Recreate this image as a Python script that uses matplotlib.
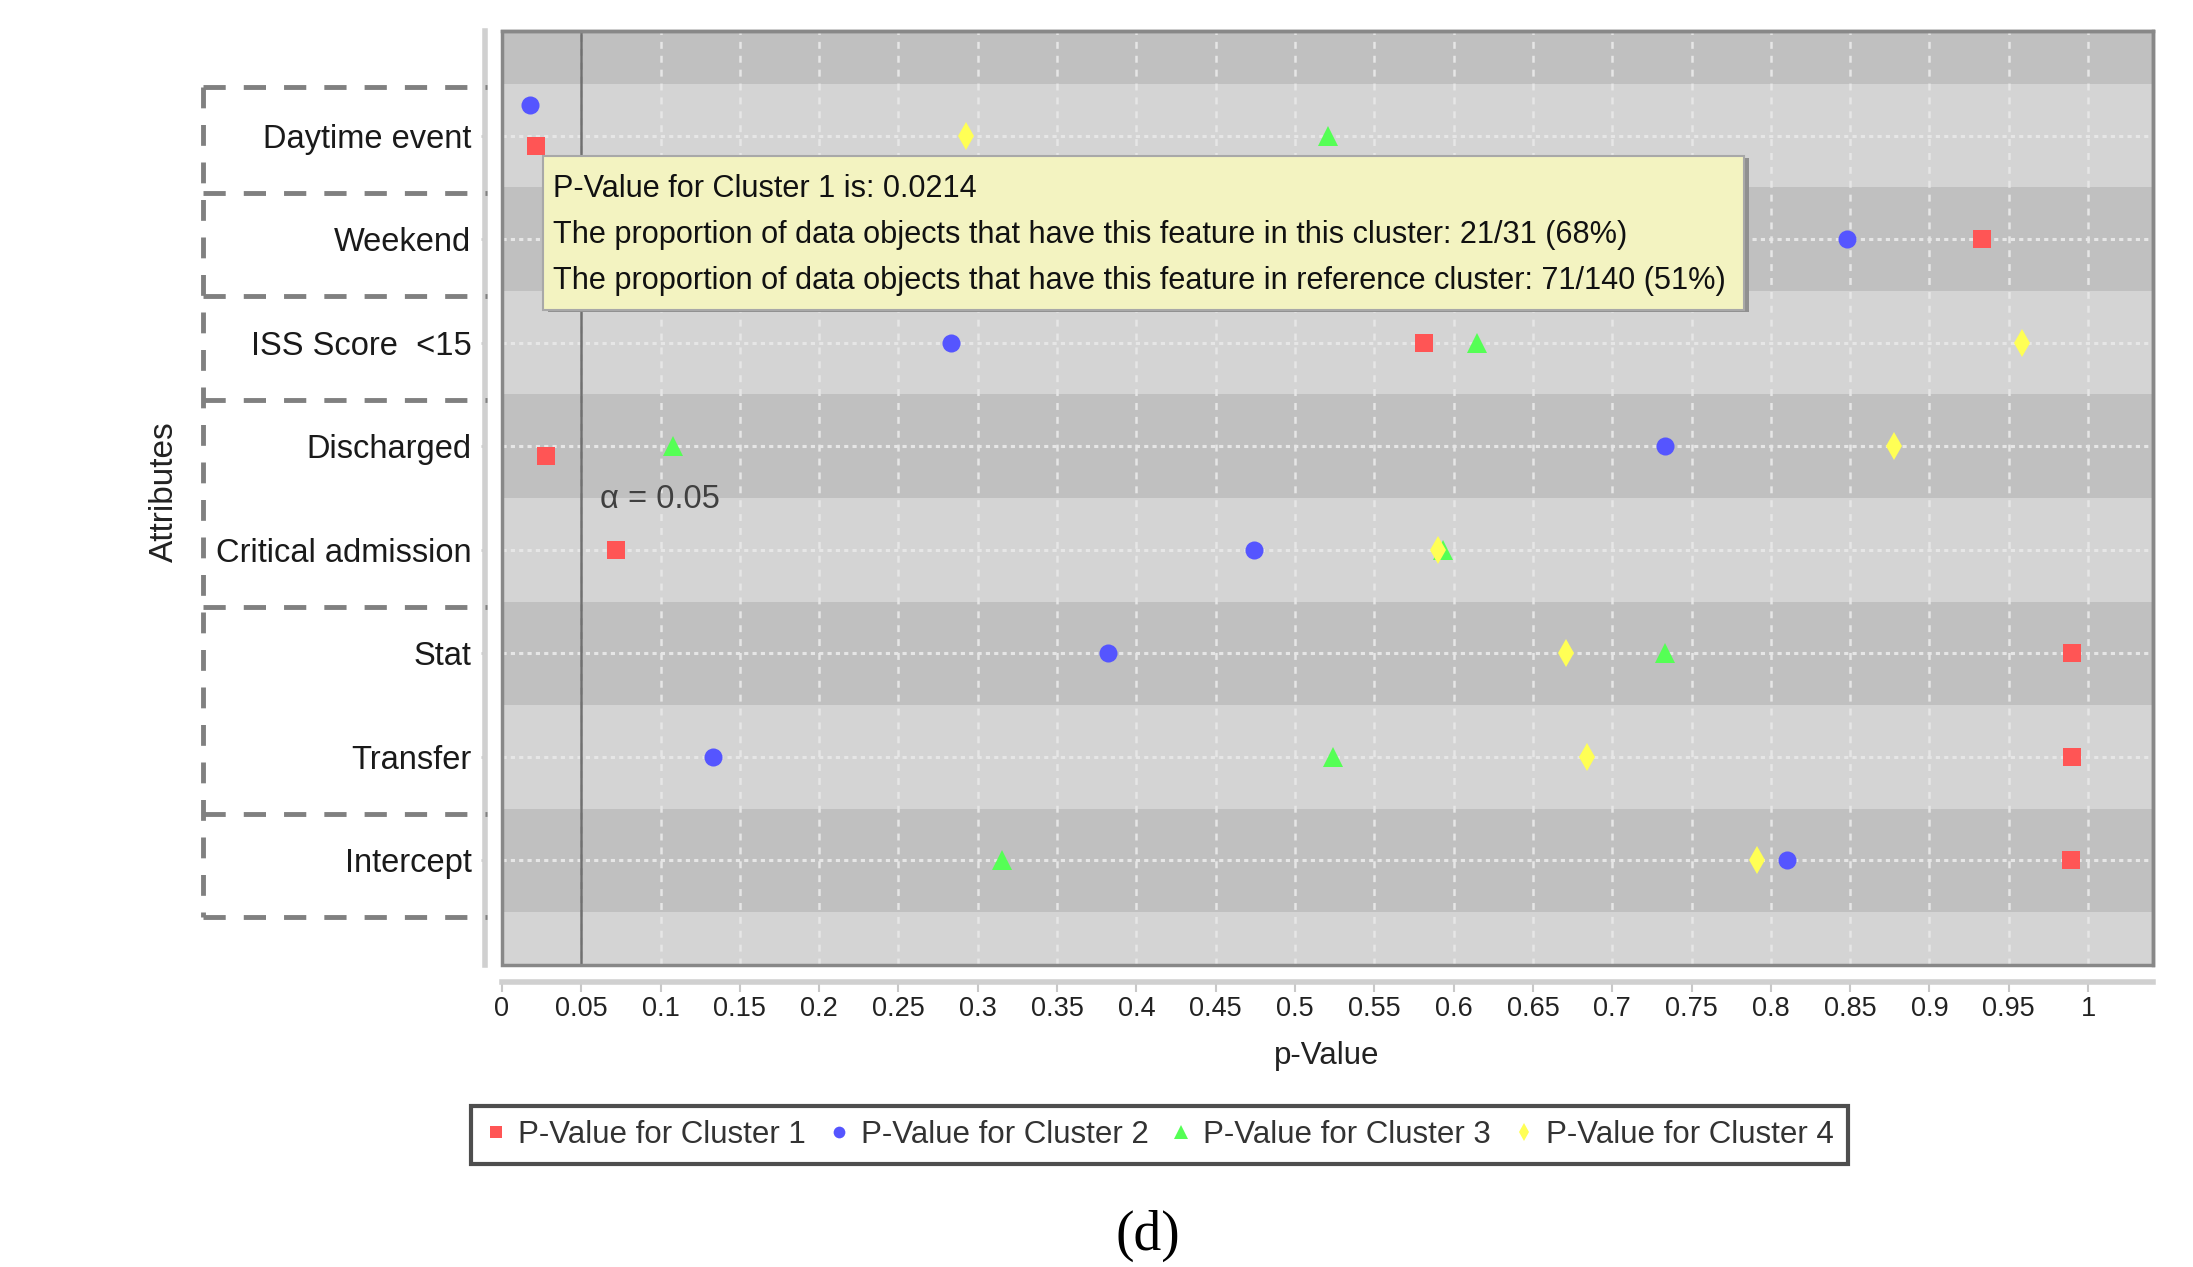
import matplotlib
matplotlib.use("Agg")
import matplotlib.pyplot as plt
from matplotlib.patches import Rectangle
from matplotlib.lines import Line2D
from matplotlib.transforms import blended_transform_factory

plt.rcParams['font.family'] = ['Liberation Sans', 'DejaVu Sans']
plt.rcParams['lines.scale_dashes'] = False

attributes = ["Daytime event", "Weekend", "ISS Score  <15", "Discharged",
              "Critical admission", "Stat", "Transfer", "Intercept"]
groups = [1, 1, 1, 2, 2, 1]

# p-values (None = hidden behind the tooltip)
cluster1 = [0.0214, 0.933, 0.5815, 0.028, 0.072, 0.990, 0.990, 0.989]
cluster2 = [0.0176, 0.848, 0.283, 0.733, 0.474, 0.382, 0.133, 0.810]
cluster3 = [0.521, None, 0.615, 0.108, 0.593, 0.733, 0.524, 0.315]
cluster4 = [0.2925, None, 0.9586, 0.8775, 0.590, 0.671, 0.684, 0.791]
# small vertical displacement of some markers in the reference
shift1 = [-0.1, 0, 0, -0.09, 0, 0, 0, 0]
shift2 = [0.3, 0, 0, 0, 0, 0, 0, 0]
shift0 = [0] * 8

xticks = [i * 0.05 for i in range(21)]

series = [
    ("P-Value for Cluster 1", cluster1, shift1, "s", "#FF5555", 13),
    ("P-Value for Cluster 2", cluster2, shift2, "o", "#5555FF", 13),
    ("P-Value for Cluster 3", cluster3, shift0, "^", "#55FF55", 15),
    ("P-Value for Cluster 4", cluster4, shift0, "d", "#FFFF55", 14),
]

fig = plt.figure(figsize=(21.93, 12.67), dpi=100)
ax = fig.add_axes([0.2289, 0.2384, 0.7529, 0.7371])

# axis look first (set_position resets tick settings)
for s in ["top", "right"]:
    ax.spines[s].set_color("#888888")
    ax.spines[s].set_linewidth(2.5)
for s in ["left", "bottom"]:
    ax.spines[s].set_position(("outward", 12))
    ax.spines[s].set_color("#D0D0D0")
    ax.spines[s].set_linewidth(4)

n = len(attributes)
ypos = [n - i for i in range(n)]

# alternating row bands
for k in range(n + 2):
    col = "#C0C0C0" if k % 2 == 1 else "#D4D4D4"
    ax.axhspan(k - 0.5, k + 0.5, color=col, zorder=0, lw=0)

ax.set_xlim(0, 1.041)
ax.set_ylim(-0.01, 9.01)

for x in xticks:
    ax.axvline(x, color="#E6E6E6", lw=1.8, ls=(0, (5, 5)), zorder=1)
for y in ypos:
    ax.axhline(y, color="#E6E6E6", lw=2.2, ls=(0, (3, 3)), zorder=1)

ax.axvline(0.05, color="#707070", lw=1.8, zorder=2)
ax.text(0.062, 4.49, "α = 0.05", fontsize=23.5, color="#404040", va="center", ha="left", zorder=3)

handles = []
for label, vals, sh, mk, col, ms in series:
    xs = [v for v in vals if v is not None]
    ys = [y + s for v, y, s in zip(vals, ypos, sh) if v is not None]
    ax.plot(xs, ys, ls="none", marker=mk, color=col, ms=ms, mew=0, zorder=4)
    handles.append(Line2D([], [], ls="none", marker=mk, color=col, ms=ms * 0.65, mew=0, label=label))

# tooltip
ax.add_patch(Rectangle((0.029, 6.30), 0.757, 1.48, fc="#909090", ec="none", zorder=5))
ax.add_patch(Rectangle((0.026, 6.32), 0.757, 1.48, fc="#F3F3C1", ec="#A8A8A8", lw=1.5, zorder=6))
tip = ["P-Value for Cluster 1 is: 0.0214",
       "The proportion of data objects that have this feature in this cluster: 21/31 (68%)",
       "The proportion of data objects that have this feature in reference cluster: 71/140 (51%)"]
for i, line in enumerate(tip):
    ax.text(0.032, 7.486 - i * 0.445, line, fontsize=22.1, color="#111111", va="center", ha="left", zorder=7)

ax.set_yticks(ypos)
ax.set_yticklabels(attributes, fontsize=23.5, color="#1a1a1a")
ax.set_xticks(xticks)
ax.set_xticklabels([f"{v:g}" for v in xticks], fontsize=19.5, color="#222222")
ax.tick_params(axis="y", length=3, width=2, color="#C8C8C8", pad=7)
ax.tick_params(axis="x", length=7, width=1.5, color="#C8C8C8", pad=3)

ax.add_patch(Rectangle((0, 0), 1, 1, transform=ax.transAxes, fill=False,
                       ec="#888888", lw=2.5, zorder=8, clip_on=False))

# group brackets left of the labels
tr = blended_transform_factory(fig.transFigure, ax.transData)
x0, x1 = 203 / 2193, 487 / 2193
bounds = [n + 0.47]
top = n
for g in groups:
    top -= g
    bounds.append(top + 0.45)
for b in bounds:
    ax.plot([x0, x1], [b, b], transform=tr, color="#808080", lw=3.5,
            ls=(0, (16, 13)), clip_on=False, zorder=9)
ax.plot([x0, x0], [bounds[0], bounds[-1]], transform=tr, color="#808080", lw=3.5,
        ls=(0, (15, 12)), clip_on=False, zorder=9)

fig.text(0.0752, 0.6117, "Attributes", rotation=90, fontsize=24, color="#222222",
         ha="center", va="center")
fig.text(0.6051, 0.1665, "p-Value", fontsize=22.5, color="#222222", ha="center", va="center")

leg = fig.legend(handles=handles, ncol=4, loc="center", bbox_to_anchor=(0.5287, 0.1042),
                 fontsize=22.5, frameon=True, fancybox=False, edgecolor="#222222",
                 handletextpad=0.35, columnspacing=0.7, borderpad=0.45, handlelength=0.7)
leg.get_frame().set_linewidth(3)
for t in leg.get_texts():
    t.set_color("#333333")

fig.text(0.5235, 0.0245, "(d)", fontsize=40, family="Liberation Serif", ha="center", va="center")

fig.savefig("out.png", dpi=100)
